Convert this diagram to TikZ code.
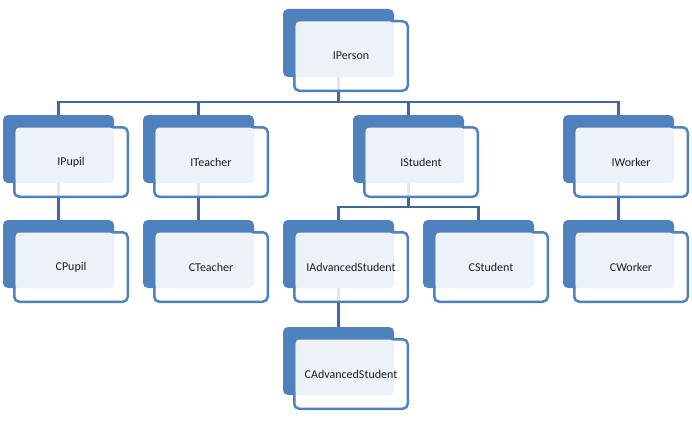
\documentclass[tikz,border=0pt]{standalone}
\usepackage{fontspec}
\setmainfont{Carlito}
\usetikzlibrary{calc,backgrounds}
\definecolor{boxblue}{HTML}{4F81BD}
\definecolor{connblue}{HTML}{41689C}
\definecolor{lightfill}{HTML}{EDF1F8}
\definecolor{txtcol}{HTML}{1E1E1E}
\tikzset{
  backbox/.style={fill=boxblue, rounded corners=5pt, minimum width=111pt, minimum height=68pt, inner sep=0pt, outer sep=0pt, anchor=north west},
  frontbox/.style={draw=boxblue, line width=2.5pt, fill=white, fill opacity=0.85, rounded corners=5pt, minimum width=113.5pt, minimum height=69.5pt, inner sep=0pt, outer sep=0pt, anchor=north west},
  txt/.style={text=txtcol, font=\fontsize{12pt}{14pt}\selectfont, inner sep=0pt},
  conn/.style={draw=connblue, line width=2.6pt},
}
\newcommand{\elem}[4]{%
  \node[backbox] (#1) at (#2,#3) {};
  \node[frontbox] (#1-f) at ($(#1.north west)+(11.25,12.25)$) {};
  \fill[lightfill, rounded corners=4pt] ($(#1.north west)+(12.5,12.5)$) rectangle (#1.south east);
  \node[txt] (#1-t) at ($(#1.north west)+(68,47)$) {#4};
}
\begin{document}
\begin{tikzpicture}[x=1pt,y=-1pt]
\useasboundingbox (0,0) rectangle (692,420);
\elem{iperson}{283}{9}{IPerson}
\elem{ipupil}{3}{115}{IPupil}
\elem{iteacher}{143}{115}{ITeacher}
\elem{istudent}{353}{115}{IStudent}
\elem{iworker}{563}{115}{IWorker}
\elem{cpupil}{3}{220}{CPupil}
\elem{cteacher}{143}{220}{CTeacher}
\elem{iadv}{283}{220}{IAdvancedStudent}
\elem{cstudent}{423}{220}{CStudent}
\elem{cworker}{563}{220}{CWorker}
\elem{cadv}{283}{327}{CAdvancedStudent}
\begin{scope}[on background layer]
  \foreach \c in {ipupil,iteacher,istudent,iworker}
    \draw[conn] (iperson.south) |- ($(\c.north)+(0,-13)$) -- (\c.north);
  \foreach \c in {iadv,cstudent}
    \draw[conn] (istudent.south) |- ($(\c.north)+(0,-13)$) -- (\c.north);
  \draw[conn] (ipupil.south) -- (cpupil.north);
  \draw[conn] (iteacher.south) -- (cteacher.north);
  \draw[conn] (iworker.south) -- (cworker.north);
  \draw[conn] (iadv.south) -- (cadv.north);
\end{scope}
\end{tikzpicture}
\end{document}
